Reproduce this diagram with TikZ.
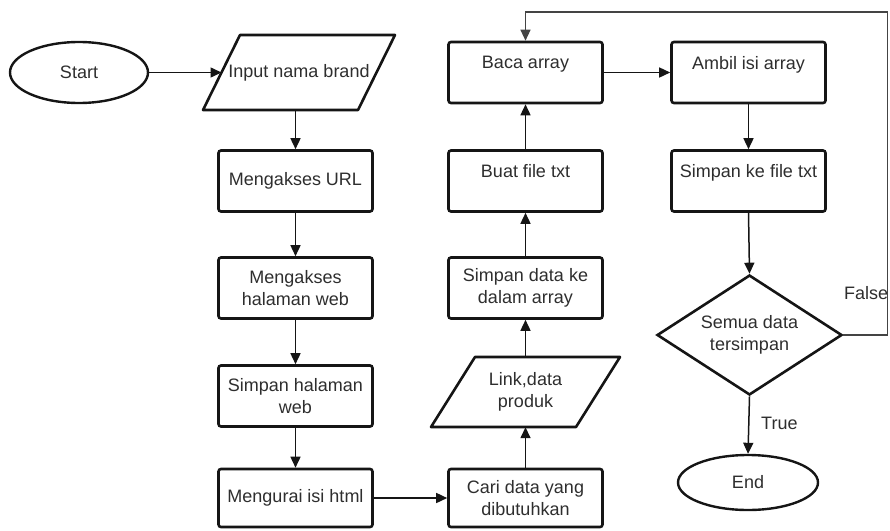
\documentclass[tikz,border=0pt]{standalone}
\usepackage{fontspec}
\setmainfont{Liberation Sans}
\usetikzlibrary{arrows.meta,shapes.geometric,calc}
\definecolor{ink}{HTML}{2E2E2E}
\definecolor{edge}{HTML}{151515}

\begin{document}
\begin{tikzpicture}[x=1pt,y=-1pt,
  font=\fontsize{18}{22}\selectfont,
  every node/.style={text=ink},
  box/.style={draw=edge, line width=2.6pt, rounded corners=2.5pt, fill=white,
    minimum width=154pt, minimum height=61pt, inner sep=2pt, align=center},
  topbox/.style={box, text depth=20pt},
  term/.style={draw=edge, ellipse, line width=2.4pt, inner sep=0pt},
  shapebox/.style={inner sep=0pt, align=center},
  outline/.style={draw=edge, line width=2.6pt, line join=round},
  flow/.style={draw=edge, line width=1.5pt, -{Triangle[length=11pt,width=10pt]}},
  lbl/.style={inner sep=0pt, anchor=west},
]
\useasboundingbox (0,0) rectangle (890,530);

% terminals
\node[term, minimum width=138pt, minimum height=61pt] (start) at (79,72.5) {Start};
\node[term, minimum width=140pt, minimum height=55pt] (end) at (748,482.5) {End};

% input parallelogram
\draw[outline] (240,35) -- (395,35) -- (358,110) -- (203,110) -- cycle;
\node[shapebox, minimum width=192pt, minimum height=75pt] (input) at (299,72.5) {Input nama brand};
\coordinate (inL) at (221.5,72.5);

% first column
\node[box] (url)  at (295.5,181) {Mengakses URL};
\node[box] (page) at (295.5,288) {Mengakses\\halaman web};
\node[box] (save) at (295.5,396) {Simpan halaman\\web};
\node[box, minimum height=58pt] (parse) at (295.5,498) {Mengurai isi html};

% second column
\node[box, minimum height=58pt] (find) at (525.5,498) {Cari data yang\\dibutuhkan};
\draw[outline] (475,357) -- (620,357) -- (576,427) -- (431,427) -- cycle;
\node[shapebox, minimum width=189pt, minimum height=70pt] (link) at (525.5,392) {Link,data\\produk};
\node[box] (store) at (525.5,288) {Simpan data ke\\dalam array};
\node[topbox] (mkfile) at (525.5,181) {Buat file txt};
\node[topbox] (read) at (525.5,72.5) {Baca array};

% third column
\node[topbox] (take)  at (748.5,72.5) {Ambil isi array};
\node[topbox] (write) at (748.5,181) {Simpan ke file txt};
\node[diamond, draw=edge, line width=2.6pt, aspect=1.54, inner sep=0pt,
      minimum width=185pt, minimum height=120pt, align=center] (check) at (749.5,335)
      {Semua data\\tersimpan};

% connectors
\draw[flow] (start.east) -- (inL);
\draw[flow] (input.south -| url) -- (url.north);
\draw[flow] (url) -- (page);
\draw[flow] (page) -- (save);
\draw[flow] (save) -- (parse);
\draw[flow] (parse) -- (find);
\draw[flow] (find.north) -- (link.south -| find);
\draw[flow] (link.north -| store) -- (store.south);
\draw[flow] (store) -- (mkfile);
\draw[flow] (mkfile) -- (read);
\draw[flow] (read) -- (take);
\draw[flow] (take) -- (write);
\draw[flow] (write.south) -- (check.north);
\draw[flow] (check.south) -- (end.north);

% branch labels
\node[lbl] (lblfalse) at (844,293) {False};
\node[lbl] (lbltrue) at (761,423) {True};

% loop back to the array reader
\coordinate (loopR) at (887.5,12);
\draw[flow, line width=1.2pt, draw=edge!80] (check.east) -| (loopR) -| (read.north);
\end{tikzpicture}
\end{document}
